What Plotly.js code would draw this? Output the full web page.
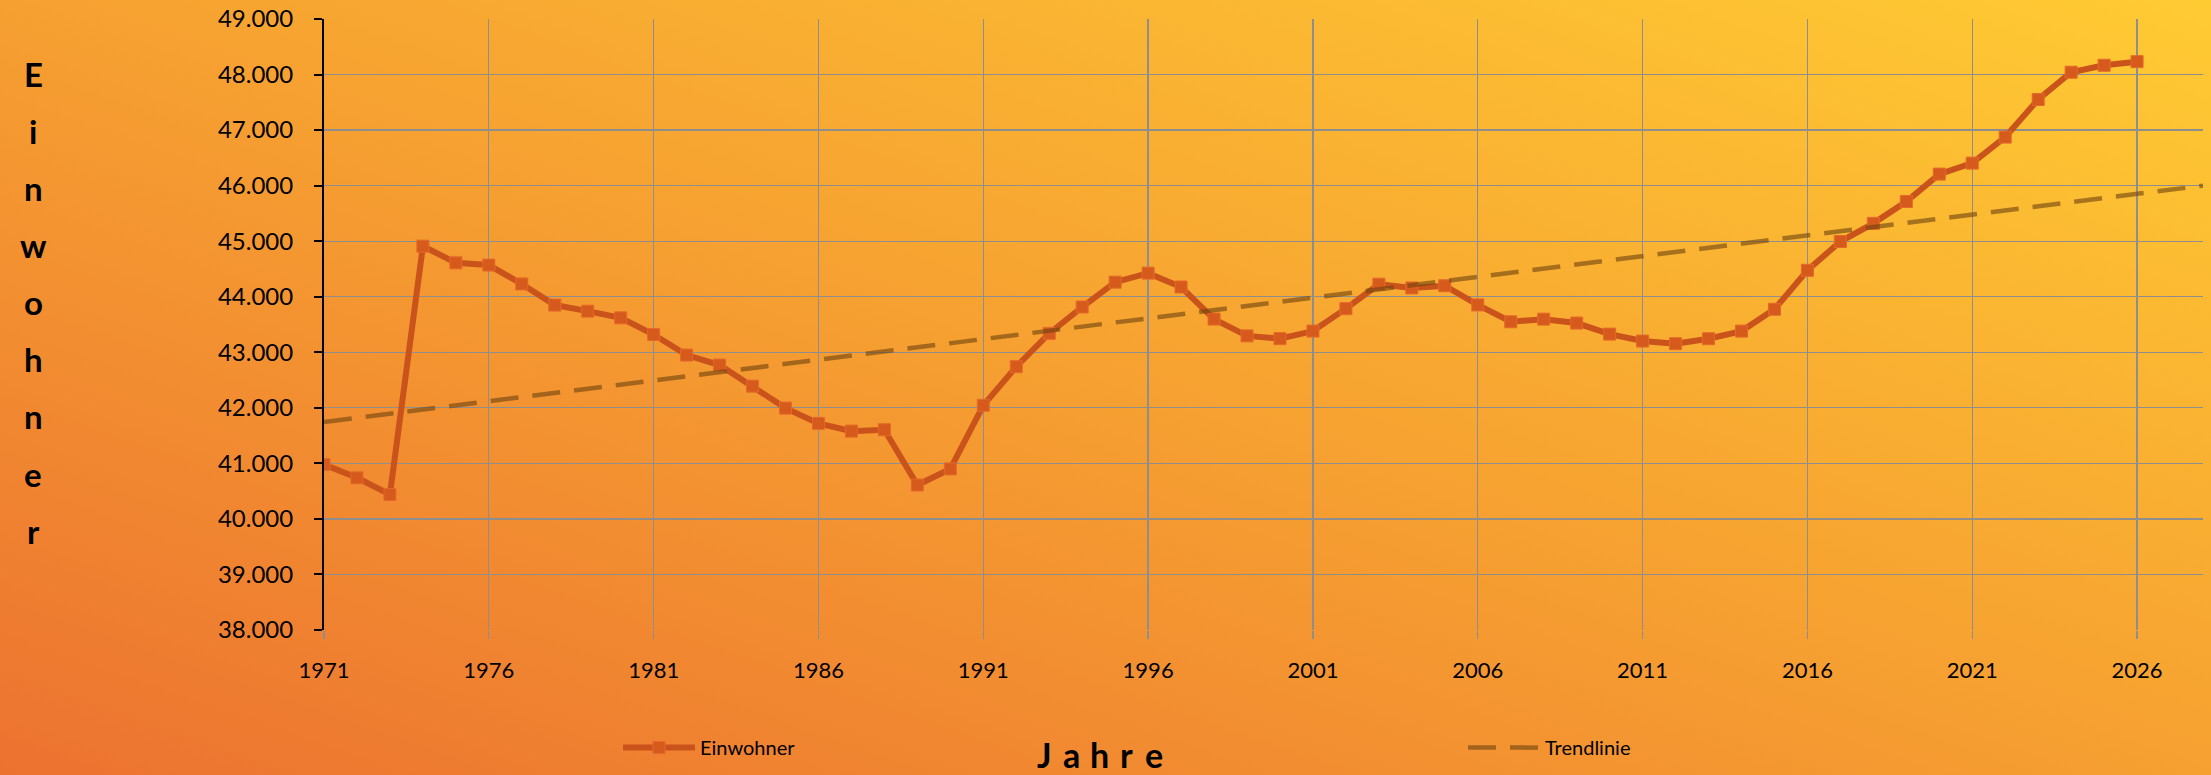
<!DOCTYPE html>
<html>
<head>
<meta charset="utf-8">
<script src="https://cdn.plot.ly/plotly-3.0.1.min.js"></script>
<style>
  html, body { margin: 0; padding: 0; }
  #wrap {
    width: 2211px; height: 775px;
    background: linear-gradient(to top right, #EC7230 0%, #F6A031 50%, #FFCB33 100%);
  }
  #chart { width: 2211px; height: 775px; }
</style>
</head>
<body>
<div id="wrap"><div id="chart"></div></div>
<script>
// ---- data ----
const years = [1971,1972,1973,1974,1975,1976,1977,1978,1979,1980,
               1981,1982,1983,1984,1985,1986,1987,1988,1989,1990,
               1991,1992,1993,1994,1995,1996,1997,1998,1999,2000,
               2001,2002,2003,2004,2005,2006,2007,2008,2009,2010,
               2011,2012,2013,2014,2015,2016,2017,2018,2019,2020,
               2021,2022,2023,2024,2025,2026];
const einwohner = [40980,40740,40440,44910,44610,44570,44230,43850,43740,43620,
                   43320,42950,42770,42390,41995,41720,41580,41605,40610,40900,
                   42045,42740,43340,43815,44262,44425,44175,43598,43295,43245,
                   43382,43785,44225,44158,44198,43852,43549,43596,43526,43327,
                   43202,43155,43244,43381,43774,44476,44994,45321,45714,46208,
                   46405,46874,47551,48042,48167,48232];
const trendYears = [1971, 2028];
const trendValues = [41745, 46000];
const xTickVals = [1971,1976,1981,1986,1991,1996,2001,2006,2011,2016,2021,2026];
const yTitleText = "Einwohner";
const xTitleText = "Jahre";
const seriesNames = ["Einwohner", "Trendlinie"];

// ---- layout geometry (pixels) ----
const W = 2211, H = 775;
const mL = 324, mR = 8, mT = 19, mB = 143;
const plotW = W - mL - mR, plotH = H - mT - mB;
const px2paperX = px => (px - mL) / plotW;
const px2paperY = py => (H - mB - py) / plotH;

const traces = [
  {
    x: years, y: einwohner, name: seriesNames[0], type: 'scatter', mode: 'lines+markers',
    line: { color: '#C9531A', width: 6 },
    marker: { symbol: 'square', size: 12, color: '#D65A1C', line: { color: '#E5692B', width: 1 } },
    legend: 'legend'
  },
  {
    x: trendYears, y: trendValues, name: seriesNames[1], type: 'scatter', mode: 'lines',
    line: { color: 'rgba(110,66,14,0.6)', width: 4.5, dash: '28px,14px' },
    legend: 'legend2'
  }
];

const annotations = [];
yTitleText.split('').forEach((ch, i) => {
  annotations.push({
    text: ch, xref: 'paper', yref: 'paper',
    x: px2paperX(33), y: px2paperY(74 + i * 57.3),
    xanchor: 'center', yanchor: 'middle', showarrow: false,
    font: { family: 'Lato', size: 33, color: '#000', weight: 'bold' }
  });
});
xTitleText.split('').forEach((ch, i) => {
  annotations.push({
    text: ch, xref: 'paper', yref: 'paper',
    x: px2paperX(1044 + i * 27.5), y: px2paperY(757),
    xanchor: 'center', yanchor: 'middle', showarrow: false,
    font: { family: 'Lato', size: 34, color: '#000', weight: 'bold' }
  });
});

const legendCommon = {
  xanchor: 'left', yanchor: 'middle', orientation: 'h', bgcolor: 'rgba(0,0,0,0)',
  itemwidth: 72,
  font: { family: 'Lato', size: 20, color: '#000' }
};

const layout = {
  width: W, height: H,
  margin: { l: mL, r: mR, t: mT, b: mB, pad: 0 },
  paper_bgcolor: 'rgba(0,0,0,0)',
  plot_bgcolor: 'rgba(0,0,0,0)',
  separators: ',.',
  showlegend: true,
  xaxis: {
    range: [1971, 2028], tickvals: xTickVals,
    showgrid: true, gridcolor: '#8E8E8E', gridwidth: 1.3,
    zeroline: false, showline: false,
    ticks: 'outside', ticklen: 8, tickcolor: '#8E8E8E', tickwidth: 1.3,
    ticklabelstandoff: 13,
    tickfont: { family: 'Lato', size: 22, color: '#000' }
  },
  yaxis: {
    range: [38000, 49000], dtick: 1000, tick0: 38000, tickformat: ',d',
    showgrid: true, gridcolor: '#8E8E8E', gridwidth: 1.3,
    zeroline: false, showline: true, linecolor: '#000', linewidth: 2,
    ticks: 'outside', ticklen: 8, tickcolor: '#000', tickwidth: 2,
    ticklabelstandoff: 16,
    tickfont: { family: 'Lato', size: 24, color: '#000' }
  },
  legend: Object.assign({ x: px2paperX(618), y: px2paperY(750) }, legendCommon),
  legend2: Object.assign({ x: px2paperX(1463), y: px2paperY(750) }, legendCommon),
  annotations: annotations
};

Plotly.newPlot('chart', traces, layout, { displayModeBar: false, staticPlot: true });
</script>
</body>
</html>
